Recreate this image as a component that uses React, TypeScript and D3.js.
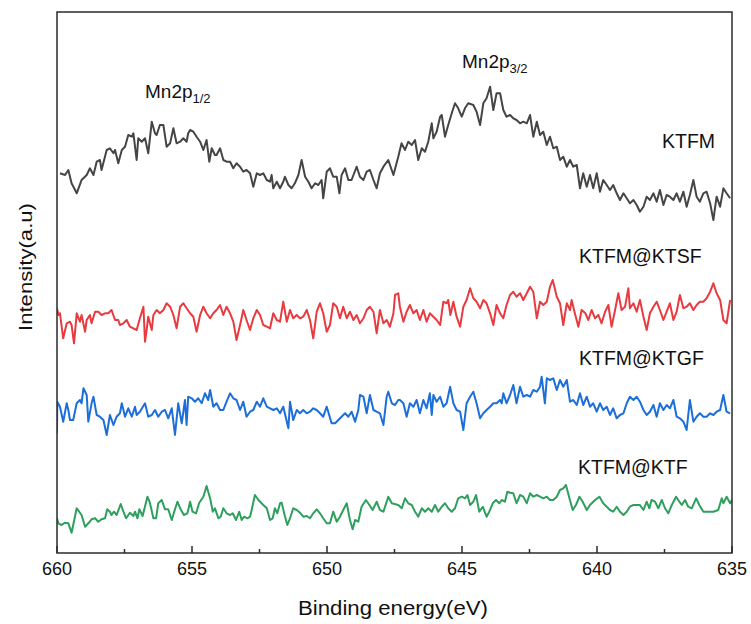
import React from "react";
import * as d3 from "d3";

// Binding energy (eV), intensity (a.u.)
const KTFM: [number, number][] = [
[659.89,379.7],[659.70,378],[659.58,383],[659.46,369.7],[659.27,359.7],[659.09,373],[658.90,378],[658.78,384.7],[658.65,378],[658.53,391.3],[658.41,393],[658.35,383],[658.16,403],[658.04,404.7],[657.91,399.7],[657.85,403],[657.73,389.7],[657.60,403],[657.48,406.3],[657.36,418],[657.23,416.3],[657.17,419.7],[657.05,393],[656.99,414.7],[656.86,411.3],[656.74,414.7],[656.62,399.7],[656.49,431.3],[656.37,419.7],[656.31,418],[656.19,428],[656.06,428],[655.94,406.3],[655.81,409.7],[655.69,424.7],[655.57,409.7],[655.44,411.3],[655.32,414.7],[655.20,411.3],[655.14,419.7],[655.07,423],[654.95,421.3],[654.83,416.3],[654.70,411.3],[654.58,403],[654.46,413],[654.36,391.3],[654.27,404.7],[654.15,398],[654.09,398],[653.96,404.7],[653.84,393],[653.72,391.3],[653.59,391.3],[653.47,384.7],[653.35,389.7],[653.22,386.3],[653.10,381.3],[652.98,383],[652.85,379.7],[652.73,366.3],[652.60,379.7],[652.48,378],[652.36,379.7],[652.23,373],[652.11,371.3],[652.05,378],[651.99,364.7],[651.86,371.3],[651.74,364.7],[651.62,371.3],[651.56,376.3],[651.43,368],[651.31,364.7],[651.19,369.7],[651.06,378],[650.94,393],[650.81,376.3],[650.69,371.3],[650.57,364.7],[650.44,369.7],[650.32,368],[650.20,373],[650.14,354.7],[650.01,381.3],[649.89,384.7],[649.77,376.3],[649.64,376.3],[649.54,359.7],[649.46,378],[649.33,384.7],[649.21,373],[649.09,373],[649.02,378],[648.90,386.3],[648.78,376.3],[648.65,373],[648.53,381.3],[648.41,383],[648.28,373],[648.16,364.7],[648.04,379.7],
[647.91,386.3],[647.73,393],[647.54,378],[647.36,396.3],[647.24,409.7],[647.11,403],[646.99,411.3],[646.86,408],[646.74,413],[646.62,393],[646.49,404.7],[646.37,401.3],[646.25,411.3],[646.12,429.7],[646.06,414.7],[645.94,421.3],[645.81,436.3],[645.75,438],[645.63,416.3],[645.51,428],[645.38,439.7],[645.26,449.7],[645.14,444.7],[645.01,436.3],[644.89,444.7],[644.77,449.7],[644.58,448],[644.46,441.3],[644.33,428],[644.21,449.7],[644.09,454.7],[643.96,466.3],[643.84,443],[643.72,459.7],[643.59,459.7],[643.47,443],[643.35,436.3],[643.22,438],[643.10,434.7],[642.98,433],[642.85,429.7],[642.73,431.3],[642.60,429.7],[642.48,438],[642.36,416.3],[642.23,431.3],[642.11,418],[641.99,421.3],[641.86,408],[641.74,416.3],[641.62,404.7],[641.49,406.3],[641.37,393],[641.25,396.3],[641.12,386.3],[641.00,393],[640.88,386.3],[640.75,388],[640.63,364.7],[640.51,379.7],[640.38,366.3],[640.26,378],[640.14,364.7],[640.01,379.7],[639.89,361.3],[639.77,373],[639.64,368],[639.52,363],[639.40,368],[639.27,359.7],[639.15,353],[639.02,359.7],[638.90,354.7],[638.78,349.7],[638.65,353],[638.53,348],[638.41,341.3],[638.28,346.3],[638.16,356.3],[638.04,353],[637.91,359.7],[637.79,351.3],[637.67,363],[637.54,348],[637.42,358],[637.30,356.3],[637.17,353],[637.05,359.7],[636.93,351.3],[636.80,361.3],[636.68,346.3],[636.56,358],[636.43,373],[636.31,356.3],[636.19,351.3],[636.06,359.7],[635.94,361.3],[635.81,349.7],[635.69,333],[635.57,356.3],[635.44,346.3],[635.32,364.7],[635.20,359.7],[635.07,354.7]
];

const KTSF: [number, number][] = [
[660.00,244.7],[659.95,238],[659.89,239.7],[659.77,214.7],[659.64,229.7],[659.52,231.3],[659.46,228],[659.37,209.7],[659.27,239.7],[659.15,231.3],[659.09,238],[658.96,221.3],[658.90,233],[658.78,238],[658.72,229.7],[658.59,241.3],[658.47,241.3],[658.35,238],[658.22,239.7],[658.10,239.7],[657.98,243],[657.85,233],[657.73,233],[657.67,228],[657.54,229.7],[657.42,233],[657.30,226.3],[657.17,224.7],[657.05,223],[656.93,234.7],[656.80,246.3],[656.74,211.3],[656.68,223],[656.62,236.3],[656.49,223],[656.43,238],[656.31,243],[656.19,239.7],[656.06,243],[655.94,249.7],[655.81,246.3],[655.69,238],[655.57,224.7],[655.44,246.3],[655.32,249.7],[655.20,244.7],[655.07,239.7],[654.95,236.3],[654.83,221.3],[654.70,238],[654.58,246.3],[654.46,239.7],[654.33,234.7],[654.21,239.7],[654.09,243],[653.96,248],[653.84,238],[653.72,246.3],[653.59,239.7],[653.47,231.3],[653.35,213],[653.22,228],[653.10,243],[652.98,233],[652.85,223],[652.73,234.7],[652.60,243],[652.48,238],[652.36,228],[652.23,226.3],[652.11,224.7],[651.99,239.7],[651.86,233],[651.74,231.3],[651.62,251.3],[651.49,231.3],[651.37,243],[651.25,234.7],[651.12,238],[651.00,234.7],[650.88,236.3],[650.75,243],[650.63,233],[650.51,214.7],[650.38,241.3],[650.26,249.7],[650.14,239.7],[650.01,221.3],[649.89,228],[649.77,249.7],[649.64,246.3],[649.52,234.7],[649.40,246.3],[649.27,234.7],[649.15,241.3],[649.02,233],[648.90,238],[648.78,229.7],[648.65,234.7],[648.53,243],[648.41,246.3],[648.28,241.3],[648.16,219.7],[648.04,243],[647.91,229.7],[647.79,233],[647.67,226.3],[647.54,239.7],
[647.48,258],[647.36,259.7],[647.30,246.3],[647.17,231.3],[647.05,241.3],[646.93,248],[646.80,239.7],[646.68,243],[646.56,233],[646.43,243],[646.31,231.3],[646.19,239.7],[646.06,236.3],[645.94,233],[645.81,228],[645.69,251.3],[645.57,249.7],[645.51,253],[645.43,238],[645.32,251.3],[645.20,236.3],[645.07,226.3],[644.95,246.3],[644.83,253],[644.70,264.7],[644.58,254.7],[644.46,251.3],[644.33,244.7],[644.21,253],[644.09,249.7],[643.96,239.7],[643.84,228],[643.72,248],[643.59,239.7],[643.47,234.7],[643.35,248],[643.22,258],[643.10,261.3],[642.98,256.3],[642.85,259.7],[642.73,253],[642.60,259.7],[642.48,266.3],[642.36,261.3],[642.23,234.7],[642.11,251.3],[641.99,248],[641.86,251.3],[641.74,266.3],[641.64,273],[641.49,256.3],[641.37,249.7],[641.25,228],[641.12,249.7],[641.00,243],[640.94,253],[640.82,239.7],[640.69,226.3],[640.57,243],[640.43,239.7],[640.32,233],[640.20,243],[640.07,234.7],[639.95,238],[639.83,229.7],[639.70,241.3],[639.58,248],[639.46,226.3],[639.33,243],[639.21,259.7],[639.09,243],[638.96,246.3],[638.84,264.7],[638.78,244.7],[638.65,249.7],[638.53,241.3],[638.41,253],[638.28,236.3],[638.16,223],[638.04,239.7],[637.91,246.3],[637.79,251.3],[637.67,243],[637.54,233],[637.42,241.3],[637.30,249.7],[637.17,233],[637.05,241.3],[636.93,258],[636.80,244.7],[636.68,246.3],[636.56,249.7],[636.43,243],[636.31,248],[636.19,251.3],[636.06,251.3],[635.94,254.7],[635.81,261.3],[635.69,269.7],[635.57,259.7],[635.44,253],[635.32,233],[635.20,229.7],[635.07,253]
];

const KTGF: [number, number][] = [
[660.00,119.7],[659.99,151.3],[659.89,146.3],[659.77,131.3],[659.64,149.7],[659.58,143],[659.52,133],[659.40,133],[659.27,149.7],[659.15,153],[659.09,149.7],[659.02,164.7],[658.90,158],[658.84,131.3],[658.72,149.7],[658.65,156.3],[658.53,138],[658.41,136.3],[658.28,133],[658.16,118],[658.04,138],[657.91,128],[657.79,136.3],[657.67,139.7],[657.60,149.7],[657.48,136.3],[657.36,144.7],[657.23,136.3],[657.11,146.3],[657.05,138],[656.93,141.3],[656.74,149.7],[656.62,136.3],[656.49,138],[656.37,143],[656.25,136.3],[656.12,141.3],[656.00,143],[655.88,134.7],[655.75,144.7],[655.63,118],[655.51,149.7],[655.38,129.7],[655.26,153],[655.20,128],[655.14,156.3],[655.01,154.7],[654.89,151.3],[654.77,154.7],[654.64,149.7],[654.52,159.7],[654.40,153],[654.33,163],[654.21,146.3],[654.09,149.7],[653.96,143],[653.84,143],[653.72,151.3],[653.59,159.7],[653.47,154.7],[653.35,153],[653.22,143],[653.10,151.3],[652.98,136.3],[652.85,141.3],[652.73,143],[652.60,151.3],[652.48,146.3],[652.36,154.7],[652.23,146.3],[652.11,144.7],[651.99,143],[651.86,144.7],[651.74,139.7],[651.62,146.3],[651.43,124.7],[651.37,151.3],[651.25,133],[651.12,143],[651.00,139.7],[650.88,143],[650.75,139.7],[650.63,141.3],[650.51,144.7],[650.38,143],[650.26,139.7],[650.14,136.3],[650.01,146.3],[649.83,129.7],[649.70,129.7],[649.58,133],[649.46,136.3],[649.33,139.7],[649.21,136.3],[649.09,141.3],[648.96,131.3],[648.84,143],[648.78,158],[648.65,156.3],[648.53,139.7],[648.41,158],[648.28,143],[648.16,141.3],[648.04,139.7],[647.91,128],[647.79,156.3],[647.73,161.3],[647.60,149.7],[647.48,148],[647.36,153],
[647.30,153],[647.17,149.7],[647.05,136.3],[646.93,149.7],[646.80,146.3],[646.68,153],[646.56,139.7],[646.43,153],[646.31,144.7],[646.19,159.7],[646.12,138],[646.06,158],[645.94,151.3],[645.81,156.3],[645.69,146.3],[645.57,149.7],[645.44,166.3],[645.32,149.7],[645.20,143],[645.07,141.3],[644.95,123],[644.83,149.7],[644.70,156.3],[644.58,161.3],[644.46,149.7],[644.33,134.7],[644.21,139.7],[644.09,143],[643.96,146.3],[643.84,149.7],[643.72,149.7],[643.59,153],[643.53,149.7],[643.47,159.7],[643.35,149.7],[643.22,158],[643.10,168],[642.98,149.7],[642.85,166.3],[642.73,156.3],[642.60,158],[642.48,156.3],[642.36,163],[642.23,161.3],[642.11,166.3],[642.05,176.3],[641.93,149.7],[641.86,174.7],[641.74,173],[641.62,174.7],[641.49,163],[641.37,173],[641.25,166.3],[641.12,173],[641.00,151.3],[640.88,153],[640.75,148],[640.63,159.7],[640.51,148],[640.38,156.3],[640.26,146.3],[640.14,149.7],[640.01,141.3],[639.89,149.7],[639.77,143],[639.64,146.3],[639.52,138],[639.40,144.7],[639.27,134.7],[639.15,138],[639.02,139.7],[638.90,149.7],[638.78,156.3],[638.65,153],[638.53,156.3],[638.41,151.3],[638.28,143],[638.16,138],[638.04,141.3],[637.91,148],[637.79,136.3],[637.67,149.7],[637.54,143],[637.42,148],[637.30,144.7],[637.17,153],[637.05,136.3],[636.93,134.7],[636.80,131.3],[636.68,123],[636.56,153],[636.43,131.3],[636.31,136.3],[636.19,139.7],[636.06,136.3],[635.94,136.3],[635.81,139.7],[635.69,138],[635.57,141.3],[635.44,143],[635.32,158],[635.20,141.3],[635.07,139.7]
];

const KTF: [number, number][] = [
[660.00,34.7],[659.95,29.7],[659.83,28],[659.70,30.3],[659.58,29.7],[659.46,20.3],[659.27,44.7],[659.09,38],[658.96,26.3],[658.84,29.7],[658.72,33.7],[658.59,34.7],[658.47,31.3],[658.35,33.7],[658.22,34.7],[658.14,43.7],[658.04,41.3],[657.98,38],[657.89,41.3],[657.79,38],[657.64,49],[657.54,41.3],[657.44,34.7],[657.30,40.3],[657.17,37],[657.11,41.3],[657.02,34.7],[656.95,43.7],[656.83,37],[656.65,56.3],[656.56,50.3],[656.43,34.7],[656.33,34.7],[656.25,49.7],[656.12,53],[656.00,43.7],[655.88,43.7],[655.75,33],[655.63,43.7],[655.54,51.3],[655.42,43.7],[655.30,38],[655.17,39.7],[655.07,51.3],[654.98,41.3],[654.85,39.7],[654.73,50.3],[654.58,56.3],[654.46,67],[654.33,54.7],[654.23,41.3],[654.15,44.7],[654.02,34.7],[653.94,36.3],[653.84,44.7],[653.72,39.7],[653.59,38],[653.49,39.7],[653.37,33],[653.25,41.3],[653.16,33],[653.07,36.3],[652.95,34.7],[652.85,36.3],[652.79,43],[652.67,58],[652.54,53],[652.36,48],[652.23,44.7],[652.11,33],[652.01,34.7],[651.93,44.7],[651.84,39.7],[651.74,49.7],[651.68,50.3],[651.56,37],[651.47,28],[651.37,34.7],[651.25,44.7],[651.12,43],[651.00,40.3],[650.88,36.3],[650.75,37],[650.63,34.7],[650.51,39.7],[650.38,43.7],[650.26,39.7],[650.14,34.7],[650.01,29.7],[649.89,29.7],[649.77,41.3],[649.64,31.3],[649.52,36.3],[649.40,43],[649.27,49.7],[649.15,33],[649.05,23.7],[648.96,33],[648.84,31.3],[648.72,46.3],[648.56,53],[648.43,48],[648.31,43],[648.16,51.3],[648.04,43],[647.91,41.3],[647.73,56.3],[647.60,49.7],
[647.36,48],[647.23,44.7],[647.11,54.7],[646.99,49.7],[646.86,48],[646.74,41.3],[646.62,36.3],[646.49,44.7],[646.37,41.3],[646.25,44.7],[646.12,41.3],[646.00,48],[645.88,41.3],[645.75,46.3],[645.63,49.7],[645.51,44.7],[645.38,41.3],[645.26,44.7],[645.14,54.7],[645.01,56.3],[644.89,54.7],[644.80,58],[644.70,48],[644.58,51.3],[644.48,58],[644.36,41.3],[644.23,46.3],[644.09,36.3],[643.99,41.3],[643.86,49.7],[643.74,53],[643.62,49.7],[643.53,53],[643.41,51.3],[643.32,61.3],[643.22,60.3],[643.10,59.7],[642.98,49.7],[642.85,58],[642.73,56.3],[642.60,49.7],[642.48,59.7],[642.36,56.3],[642.23,58],[642.11,56.3],[641.99,54.7],[641.86,56.3],[641.74,53],[641.62,53],[641.49,56.3],[641.37,63],[641.25,64.7],[641.15,68],[641.02,54.7],[640.90,43],[640.78,48],[640.65,56.3],[640.53,51.3],[640.38,43],[640.26,48],[640.07,53],[639.91,56.3],[639.77,49.7],[639.64,46.3],[639.52,43],[639.40,41.3],[639.27,46.3],[639.15,41.3],[639.02,38],[638.90,41.3],[638.78,46.3],[638.65,48],[638.53,48],[638.41,48],[638.28,43],[638.16,51.3],[638.06,44.7],[637.98,53],[637.85,51.3],[637.73,44.7],[637.60,53],[637.48,44.7],[637.36,39.7],[637.23,48],[637.07,56.3],[636.95,51.3],[636.86,48],[636.74,53],[636.62,46.3],[636.49,44.7],[636.33,54.7],[636.21,48],[636.06,41.3],[635.88,41.3],[635.69,41.3],[635.51,43],[635.38,54.7],[635.32,49.7],[635.20,56.3],[635.07,49.7],[635.00,53]
];

const MAJOR_TICKS = [660, 655, 650, 645, 640, 635];
const MINOR_TICKS = [657.5, 652.5, 647.5, 642.5, 637.5];

const SERIES = [
  { name: "KTFM", data: KTFM, color: "#454545" },
  { name: "KTFM@KTSF", data: KTSF, color: "#e83a3f" },
  { name: "KTFM@KTGF", data: KTGF, color: "#1c6ed8" },
  { name: "KTFM@KTF", data: KTF, color: "#2f9f5e" },
];

const LABELS = [
  { text: "KTFM", x: 662, y: 148 },
  { text: "KTFM@KTSF", x: 579, y: 263 },
  { text: "KTFM@KTGF", x: 579, y: 365 },
  { text: "KTFM@KTF", x: 578, y: 474 },
];

const FONT = "'Liberation Sans', Arial, sans-serif";

export default function App() {
  const W = 751, H = 624;
  const left = 57, right = 732, top = 12, bottom = 553;
  const x = d3.scaleLinear().domain([660, 635]).range([left, right]);
  const y = d3.scaleLinear().domain([0, bottom - top]).range([bottom, top]);
  const line = d3.line<[number, number]>().x(d => x(d[0])).y(d => y(d[1]));

  return (
    <svg width={W} height={H} style={{ position: "absolute", left: 0, top: 0, background: "#fff" }} fontFamily={FONT}>
      <rect x={0} y={0} width={W} height={H} fill="#fff" />
      <defs>
        <clipPath id="plot">
          <rect x={left} y={top} width={right - left} height={bottom - top} />
        </clipPath>
      </defs>
      <g clipPath="url(#plot)">
        {SERIES.map(s => (
          <path key={s.name} d={line(s.data) || ""} fill="none" stroke={s.color} strokeWidth={2} strokeLinejoin="round" />
        ))}
      </g>
      <rect x={left} y={top} width={right - left} height={bottom - top} fill="none" stroke="#2b2b2b" strokeWidth={1.5} />
      {MAJOR_TICKS.map(t => (
        <g key={t}>
          <line x1={x(t)} x2={x(t)} y1={bottom} y2={bottom - 7} stroke="#2b2b2b" strokeWidth={1.5} />
          <text x={x(t)} y={575} textAnchor="middle" fontSize={18} fill="#111">{t}</text>
        </g>
      ))}
      {MINOR_TICKS.map(t => (
        <line key={t} x1={x(t)} x2={x(t)} y1={bottom} y2={bottom - 4} stroke="#2b2b2b" strokeWidth={1.5} />
      ))}
      <text x={393} y={615} textAnchor="middle" fontSize={20} fill="#111" textLength={190} lengthAdjust="spacingAndGlyphs">Binding energy(eV)</text>
      <text transform="translate(32,267) rotate(-90)" textAnchor="middle" fontSize={19} fill="#111" textLength={128} lengthAdjust="spacingAndGlyphs">Intensity(a.u)</text>
      {LABELS.map(l => (
        <text key={l.text} x={l.x} y={l.y} fontSize={19.5} fill="#111">{l.text}</text>
      ))}
      <text x={145} y={98} fontSize={19} fill="#111">Mn2p<tspan fontSize={13} dy={5}>1/2</tspan></text>
      <text x={462} y={68} fontSize={19} fill="#111">Mn2p<tspan fontSize={13} dy={5}>3/2</tspan></text>
    </svg>
  );
}
